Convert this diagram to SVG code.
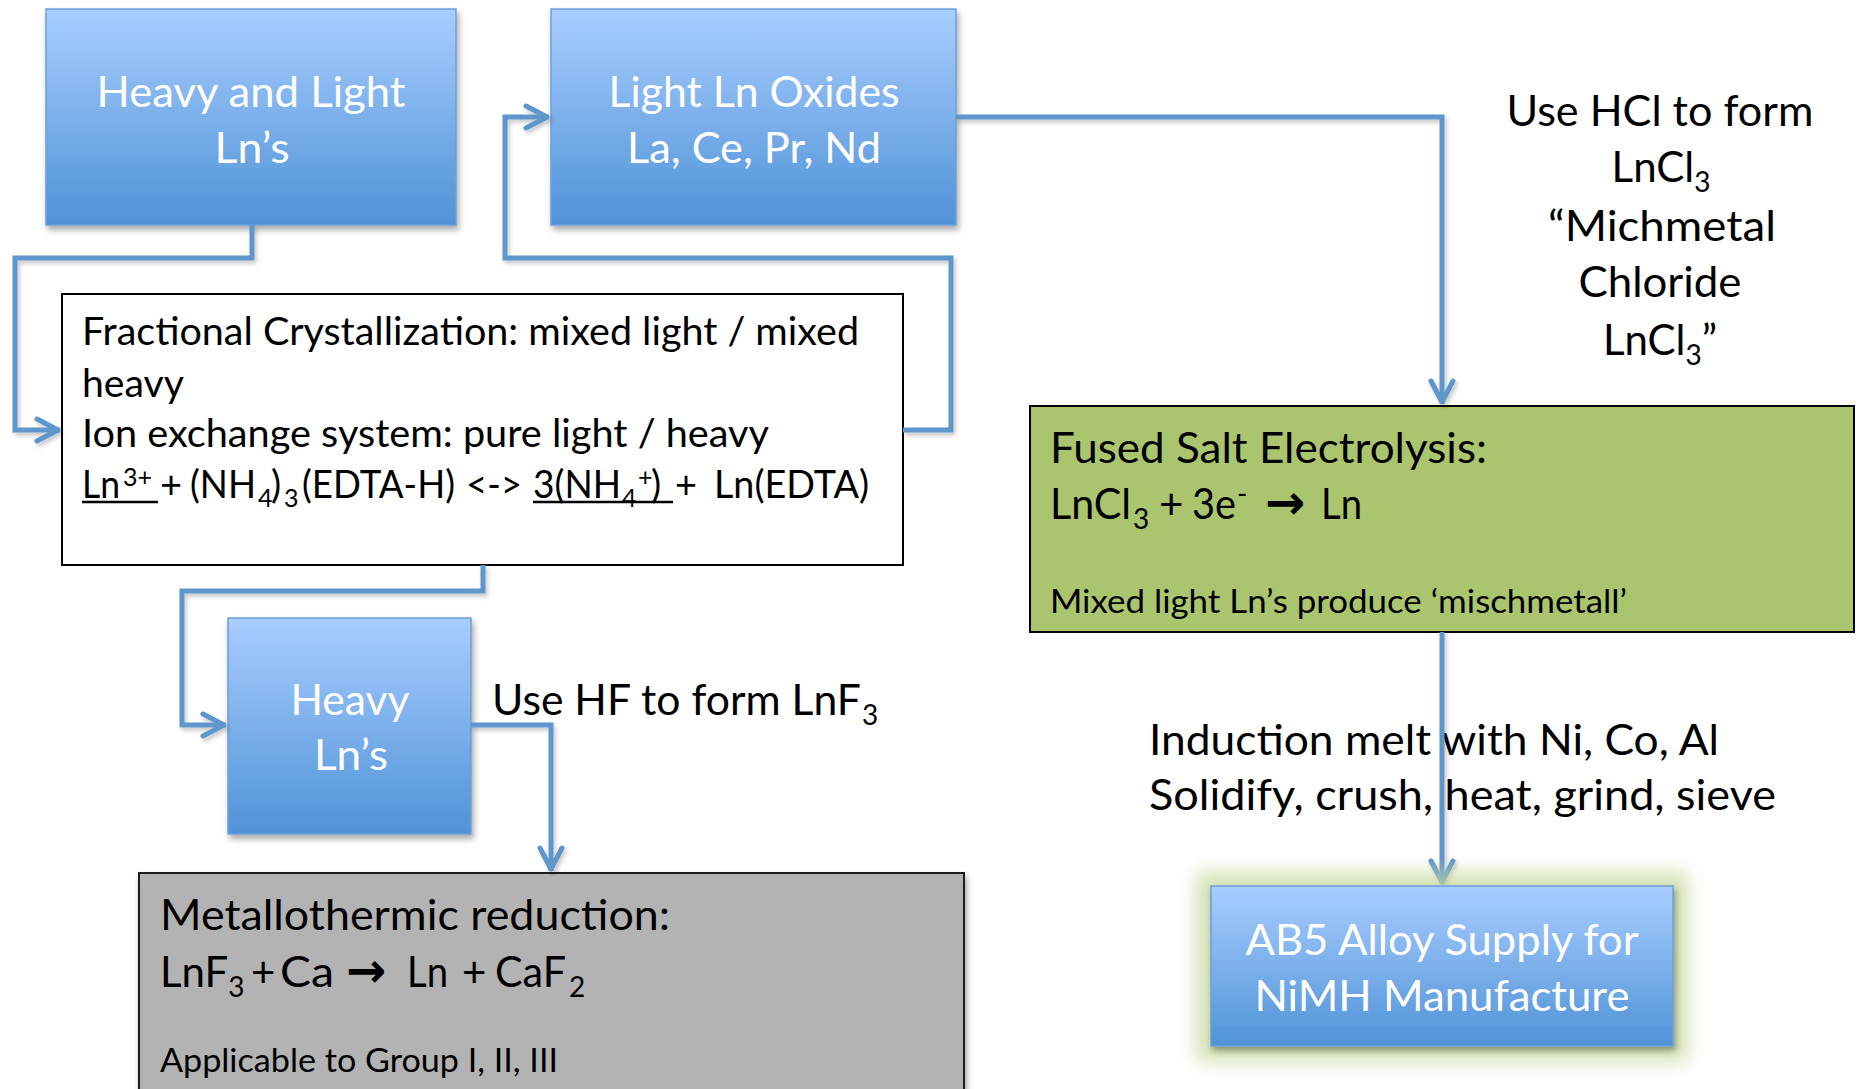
<svg xmlns="http://www.w3.org/2000/svg" width="1861" height="1089" viewBox="0 0 1861 1089">
  <defs>
    <linearGradient id="blueFill" x1="0" y1="0" x2="0" y2="1">
      <stop offset="0" stop-color="#a9cdff"/>
      <stop offset="1" stop-color="#4f93d7"/>
    </linearGradient>
    <filter id="shadow" x="-10%" y="-10%" width="125%" height="130%">
      <feDropShadow dx="2" dy="4" stdDeviation="3" flood-color="#000" flood-opacity="0.35"/>
    </filter>
    <filter id="lineShadow" x="-5%" y="-5%" width="110%" height="110%">
      <feDropShadow dx="2" dy="3" stdDeviation="2" flood-color="#000" flood-opacity="0.22"/>
    </filter>
    <filter id="glow" x="-20%" y="-30%" width="140%" height="160%">
      <feGaussianBlur stdDeviation="9"/>
    </filter>
    <marker id="arrow" markerUnits="userSpaceOnUse" markerWidth="32" markerHeight="32" viewBox="0 0 32 32" refX="29" refY="16" orient="auto">
      <path d="M6,5 L27,16 L6,27" fill="none" stroke="#5f96cc" stroke-width="5" stroke-linecap="round" stroke-linejoin="round"/>
    </marker>
    <style>
      text { font-family: "Lato", "Open Sans", "DejaVu Sans", sans-serif; fill: #000; }
      .white { fill: #fff; text-anchor: middle; font-size: 43px; }
      .blue { fill: url(#blueFill); stroke: #6e9fd9; stroke-width: 1.5; filter: url(#shadow); }
      .t38 { font-size: 38px; }
      .t42 { font-size: 42px; }
      .t33 { font-size: 33px; }
      .mid { text-anchor: middle; }
      .sym { font-family: "DejaVu Sans", sans-serif; font-weight: bold; font-size: 48px; }
      .conn { fill: none; stroke: #5f96cc; stroke-width: 5; stroke-linejoin: miter; }
      .uline { stroke: #000; stroke-width: 2.5; }
    </style>
  </defs>

  <rect x="0" y="0" width="1861" height="1089" fill="#fff"/>

  <!-- source material -->
  <g id="node-heavy-light">
    <rect class="blue" x="46" y="9" width="410" height="216"/>
    <text class="white" x="251" y="107" textLength="309" lengthAdjust="spacingAndGlyphs">Heavy and Light</text>
    <text class="white" x="252" y="163" textLength="75" lengthAdjust="spacingAndGlyphs">Ln’s</text>
  </g>

  <g id="node-light-oxides">
    <rect class="blue" x="551" y="9" width="405" height="216"/>
    <text class="white" x="754" y="107" textLength="291" lengthAdjust="spacingAndGlyphs">Light Ln Oxides</text>
    <text class="white" x="754" y="163" textLength="254" lengthAdjust="spacingAndGlyphs">La, Ce, Pr, Nd</text>
  </g>

  <!-- separation step -->
  <g id="node-separation">
    <rect x="62" y="294" width="841" height="271" fill="#fff" stroke="#000" stroke-width="2"/>
    <text class="t38" x="82" y="345" textLength="777" lengthAdjust="spacingAndGlyphs">Fractional Crystallization: mixed light / mixed</text>
    <text class="t38" x="82" y="397" textLength="102" lengthAdjust="spacingAndGlyphs">heavy</text>
    <text class="t38" x="82" y="447" textLength="687" lengthAdjust="spacingAndGlyphs">Ion exchange system: pure light / heavy</text>
    <text class="t38" y="498"><tspan x="82" textLength="38" lengthAdjust="spacingAndGlyphs">Ln</tspan><tspan x="123" dy="-12" font-size="25">3+</tspan><tspan x="160" dy="12">+</tspan><tspan x="190" textLength="66" lengthAdjust="spacingAndGlyphs">(NH</tspan><tspan x="258" dy="9" font-size="25">4</tspan><tspan x="271" dy="-9">)</tspan><tspan x="284" dy="9" font-size="25">3</tspan><tspan x="302" dy="-9" textLength="153" lengthAdjust="spacingAndGlyphs">(EDTA-H)</tspan><tspan x="466" textLength="56" lengthAdjust="spacingAndGlyphs">&lt;-&gt;</tspan><tspan x="533" textLength="88" lengthAdjust="spacingAndGlyphs">3(NH</tspan><tspan x="622" dy="9" font-size="25">4</tspan><tspan x="638" dy="-21" font-size="25">+</tspan><tspan x="651" dy="12">)</tspan><tspan x="675">+</tspan><tspan x="714" textLength="155" lengthAdjust="spacingAndGlyphs">Ln(EDTA)</tspan></text>
    <line class="uline" x1="82" y1="502" x2="158" y2="502"/>
    <line class="uline" x1="533" y1="502" x2="673" y2="502"/>
  </g>

  <g id="node-heavy">
    <rect class="blue" x="228" y="618" width="243" height="216"/>
    <text class="white" x="350" y="715" textLength="119" lengthAdjust="spacingAndGlyphs">Heavy</text>
    <text class="white" x="351" y="770" textLength="74" lengthAdjust="spacingAndGlyphs">Ln’s</text>
  </g>

  <!-- reduction routes -->
  <g id="node-metallothermic">
    <rect x="139" y="873" width="825" height="240" fill="#b3b3b3" stroke="#1a1a1a" stroke-width="2" filter="url(#shadow)"/>
    <text class="t42" x="160" y="930" textLength="510" lengthAdjust="spacingAndGlyphs">Metallothermic reduction:</text>
    <text class="t42" y="987"><tspan x="160">LnF<tspan dy="10" font-size="28">3</tspan></tspan><tspan x="251" dy="-10">+</tspan><tspan x="280" textLength="54" lengthAdjust="spacingAndGlyphs">Ca</tspan><tspan class="sym" x="346">→</tspan><tspan x="407" textLength="41" lengthAdjust="spacingAndGlyphs">Ln</tspan><tspan x="462">+</tspan><tspan x="495" textLength="71" lengthAdjust="spacingAndGlyphs">CaF</tspan><tspan x="569" dy="10" font-size="28">2</tspan></text>
    <text class="t33" x="160" y="1072" textLength="398" lengthAdjust="spacingAndGlyphs">Applicable to Group I, II, III</text>
  </g>

  <g id="node-electrolysis">
    <rect x="1030" y="406" width="824" height="226" fill="#abc46e" stroke="#000" stroke-width="2"/>
    <text class="t42" x="1050" y="463" textLength="437" lengthAdjust="spacingAndGlyphs">Fused Salt Electrolysis:</text>
    <text class="t42" y="519"><tspan x="1050" textLength="81" lengthAdjust="spacingAndGlyphs">LnCl</tspan><tspan x="1133" dy="10" font-size="28">3</tspan><tspan x="1159" dy="-10">+</tspan><tspan x="1192" textLength="44" lengthAdjust="spacingAndGlyphs">3e</tspan><tspan x="1237" dy="-15" font-size="28">-</tspan><tspan class="sym" x="1265" dy="15">→</tspan><tspan x="1321" textLength="41" lengthAdjust="spacingAndGlyphs">Ln</tspan></text>
    <text class="t33" x="1050" y="613" textLength="577" lengthAdjust="spacingAndGlyphs">Mixed light Ln’s produce ‘mischmetall’</text>
  </g>

  <!-- process notes -->
  <g id="note-hcl" class="t42">
    <text class="mid" x="1660" y="126" textLength="307" lengthAdjust="spacingAndGlyphs">Use HCl to form</text>
    <text class="mid" x="1661" y="182">LnCl<tspan dy="10" font-size="28">3</tspan></text>
    <text class="mid" x="1662" y="241" textLength="228" lengthAdjust="spacingAndGlyphs">“Michmetal</text>
    <text class="mid" x="1660" y="297" textLength="163" lengthAdjust="spacingAndGlyphs">Chloride</text>
    <text class="mid" x="1660" y="355">LnCl<tspan dy="10" font-size="28">3</tspan><tspan dy="-10">”</tspan></text>
  </g>

  <g id="note-hf" class="t42">
    <text y="715"><tspan x="492" textLength="369" lengthAdjust="spacingAndGlyphs">Use HF to form LnF</tspan><tspan x="862" dy="10" font-size="28">3</tspan></text>
  </g>

  <g id="note-induction" class="t42">
    <text x="1149" y="755" textLength="570" lengthAdjust="spacingAndGlyphs">Induction melt with Ni, Co, Al</text>
    <text x="1149" y="810" textLength="627" lengthAdjust="spacingAndGlyphs">Solidify, crush, heat, grind, sieve</text>
  </g>

  <!-- flow lines -->
  <g id="connectors" filter="url(#lineShadow)">
    <path class="conn" d="M252,225 V258 H15 V430 H60" marker-end="url(#arrow)"/>
    <path class="conn" d="M903,430 H951 V258 H505 V117 H549" marker-end="url(#arrow)"/>
    <path class="conn" d="M956,117 H1442 V404" marker-end="url(#arrow)"/>
    <path class="conn" d="M483,565 V591 H182 V725 H226" marker-end="url(#arrow)"/>
    <path class="conn" d="M471,725 H551 V871" marker-end="url(#arrow)"/>
    <path class="conn" d="M1442,632 V884" marker-end="url(#arrow)"/>
  </g>

  <!-- final product -->
  <g id="node-ab5">
    <rect x="1196" y="872" width="492" height="190" fill="#c5d99c" opacity="0.75" filter="url(#glow)"/>
    <rect class="blue" x="1211" y="886" width="462" height="160"/>
    <text class="white" x="1442" y="955" textLength="393" lengthAdjust="spacingAndGlyphs">AB5 Alloy Supply for</text>
    <text class="white" x="1442" y="1011" textLength="375" lengthAdjust="spacingAndGlyphs">NiMH Manufacture</text>
  </g>
</svg>
